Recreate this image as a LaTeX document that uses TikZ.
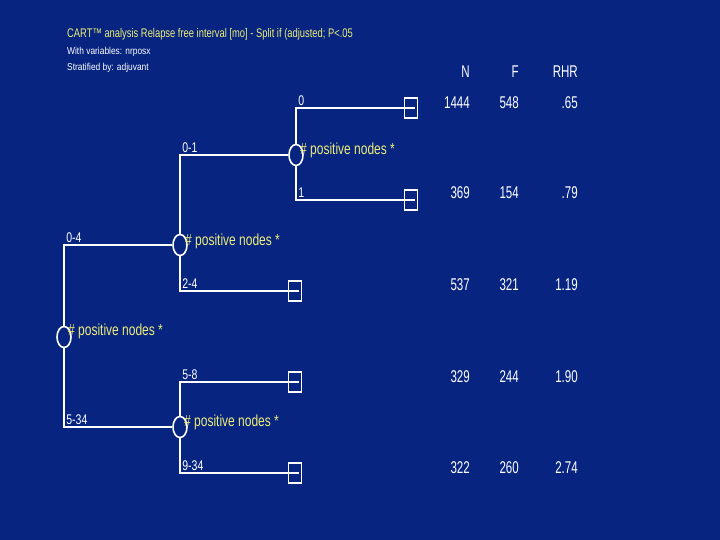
\documentclass[tikz,border=0pt]{standalone}
\usepackage{fontspec}
\setmainfont{Liberation Sans}
\newfontfamily\narrowfont[FakeStretch=0.75]{Liberation Sans}
\newfontfamily\headfont[FakeStretch=0.84]{Liberation Sans}
\newfontfamily\digitfont[FakeStretch=0.68]{Liberation Sans}
\usepackage{tikz}
\usetikzlibrary{shapes.geometric}
\definecolor{slideblue}{RGB}{6,36,128}
\definecolor{splityellow}{RGB}{236,236,120}
\begin{document}
\begin{tikzpicture}[x=1pt, y=-1pt,
  split/.style={ellipse, draw=white, line width=1.6pt, minimum width=14pt, minimum height=21pt, inner sep=0pt},
  leaf/.style={rectangle, draw=white, line width=1.6pt, minimum width=13pt, minimum height=20pt, inner sep=0pt},
  branch/.style={draw=white, line width=1.8pt},
  splitlabel/.style={anchor=west, text=splityellow, inner sep=0pt, font=\narrowfont\fontsize{16}{16}\selectfont},
  cutlabel/.style={above right, text=white, inner sep=1.5pt, font=\narrowfont\fontsize{14}{14}\selectfont},
  num/.style={anchor=east, text=white, inner sep=0pt, font=\digitfont\fontsize{17}{17}\selectfont}]
  \fill[slideblue] (0,0) rectangle (720,540);
  % Heading
  \node[anchor=west, inner sep=0pt, text=splityellow, font=\narrowfont\fontsize{12.5}{12.5}\selectfont] (title) at (67,34)
    {CART™ analysis Relapse free interval [mo] - Split if (adjusted; P<.05};
  \node[anchor=west, inner sep=0pt, text=white, font=\headfont\fontsize{10}{10}\selectfont] (vars) at (67,52) {With variables: nrposx};
  \node[anchor=west, inner sep=0pt, text=white, font=\headfont\fontsize{10}{10}\selectfont] (strat) at (67,68) {Stratified by: adjuvant};
  % Splits
  \node[split] (root) at (64,337) {};
  \node[split] (lo) at (180,245) {};
  \node[split] (lolo) at (296,155) {};
  \node[split] (hi) at (180,427) {};
  \node[splitlabel] (rootlab) at (68,331) {\# positive nodes *};
  \node[splitlabel] (lolab) at (185,241) {\# positive nodes *};
  \node[splitlabel] (lololab) at (300,150) {\# positive nodes *};
  \node[splitlabel] (hilab) at (184,422) {\# positive nodes *};
  % Terminal groups
  \node[leaf] (t0) at (411,108) {};
  \node[leaf] (t1) at (411,200) {};
  \node[leaf] (t24) at (295,291) {};
  \node[leaf] (t58) at (295,382) {};
  \node[leaf] (t934) at (295,473) {};
  % Branches
  \draw[branch] (root) |- node[pos=0.5, cutlabel] {0-4} (lo);
  \draw[branch] (root) |- node[pos=0.5, cutlabel] {5-34} (hi);
  \draw[branch] (lo) |- node[pos=0.5, cutlabel] {0-1} (lolo);
  \draw[branch] (lo) |- node[pos=0.5, cutlabel] {2-4} ([xshift=-3pt]t24.east);
  \draw[branch] (lolo) |- node[pos=0.5, cutlabel] {0} ([xshift=-3pt]t0.east);
  \draw[branch] (lolo) |- node[pos=0.5, cutlabel] {1} ([xshift=-3pt]t1.east);
  \draw[branch] (hi) |- node[pos=0.5, cutlabel] {5-8} ([xshift=-3pt]t58.east);
  \draw[branch] (hi) |- node[pos=0.5, cutlabel] {9-34} ([xshift=-3pt]t934.east);
  % Table
  \node[num] (hN) at (470,72) {N};
  \node[num] (hF) at (519,72) {F};
  \node[num] (hRHR) at (578,72) {RHR};
  \node[num] (n0) at (470,103) {1444};
  \node[num] (f0) at (519,103) {548};
  \node[num] (r0) at (578,103) {.65};
  \node[num] (n1) at (470,193) {369};
  \node[num] (f1) at (519,193) {154};
  \node[num] (r1) at (578,193) {.79};
  \node[num] (n24) at (470,285) {537};
  \node[num] (f24) at (519,285) {321};
  \node[num] (r24) at (578,285) {1.19};
  \node[num] (n58) at (470,377) {329};
  \node[num] (f58) at (519,377) {244};
  \node[num] (r58) at (578,377) {1.90};
  \node[num] (n934) at (470,468) {322};
  \node[num] (f934) at (519,468) {260};
  \node[num] (r934) at (578,468) {2.74};
\end{tikzpicture}
\end{document}
